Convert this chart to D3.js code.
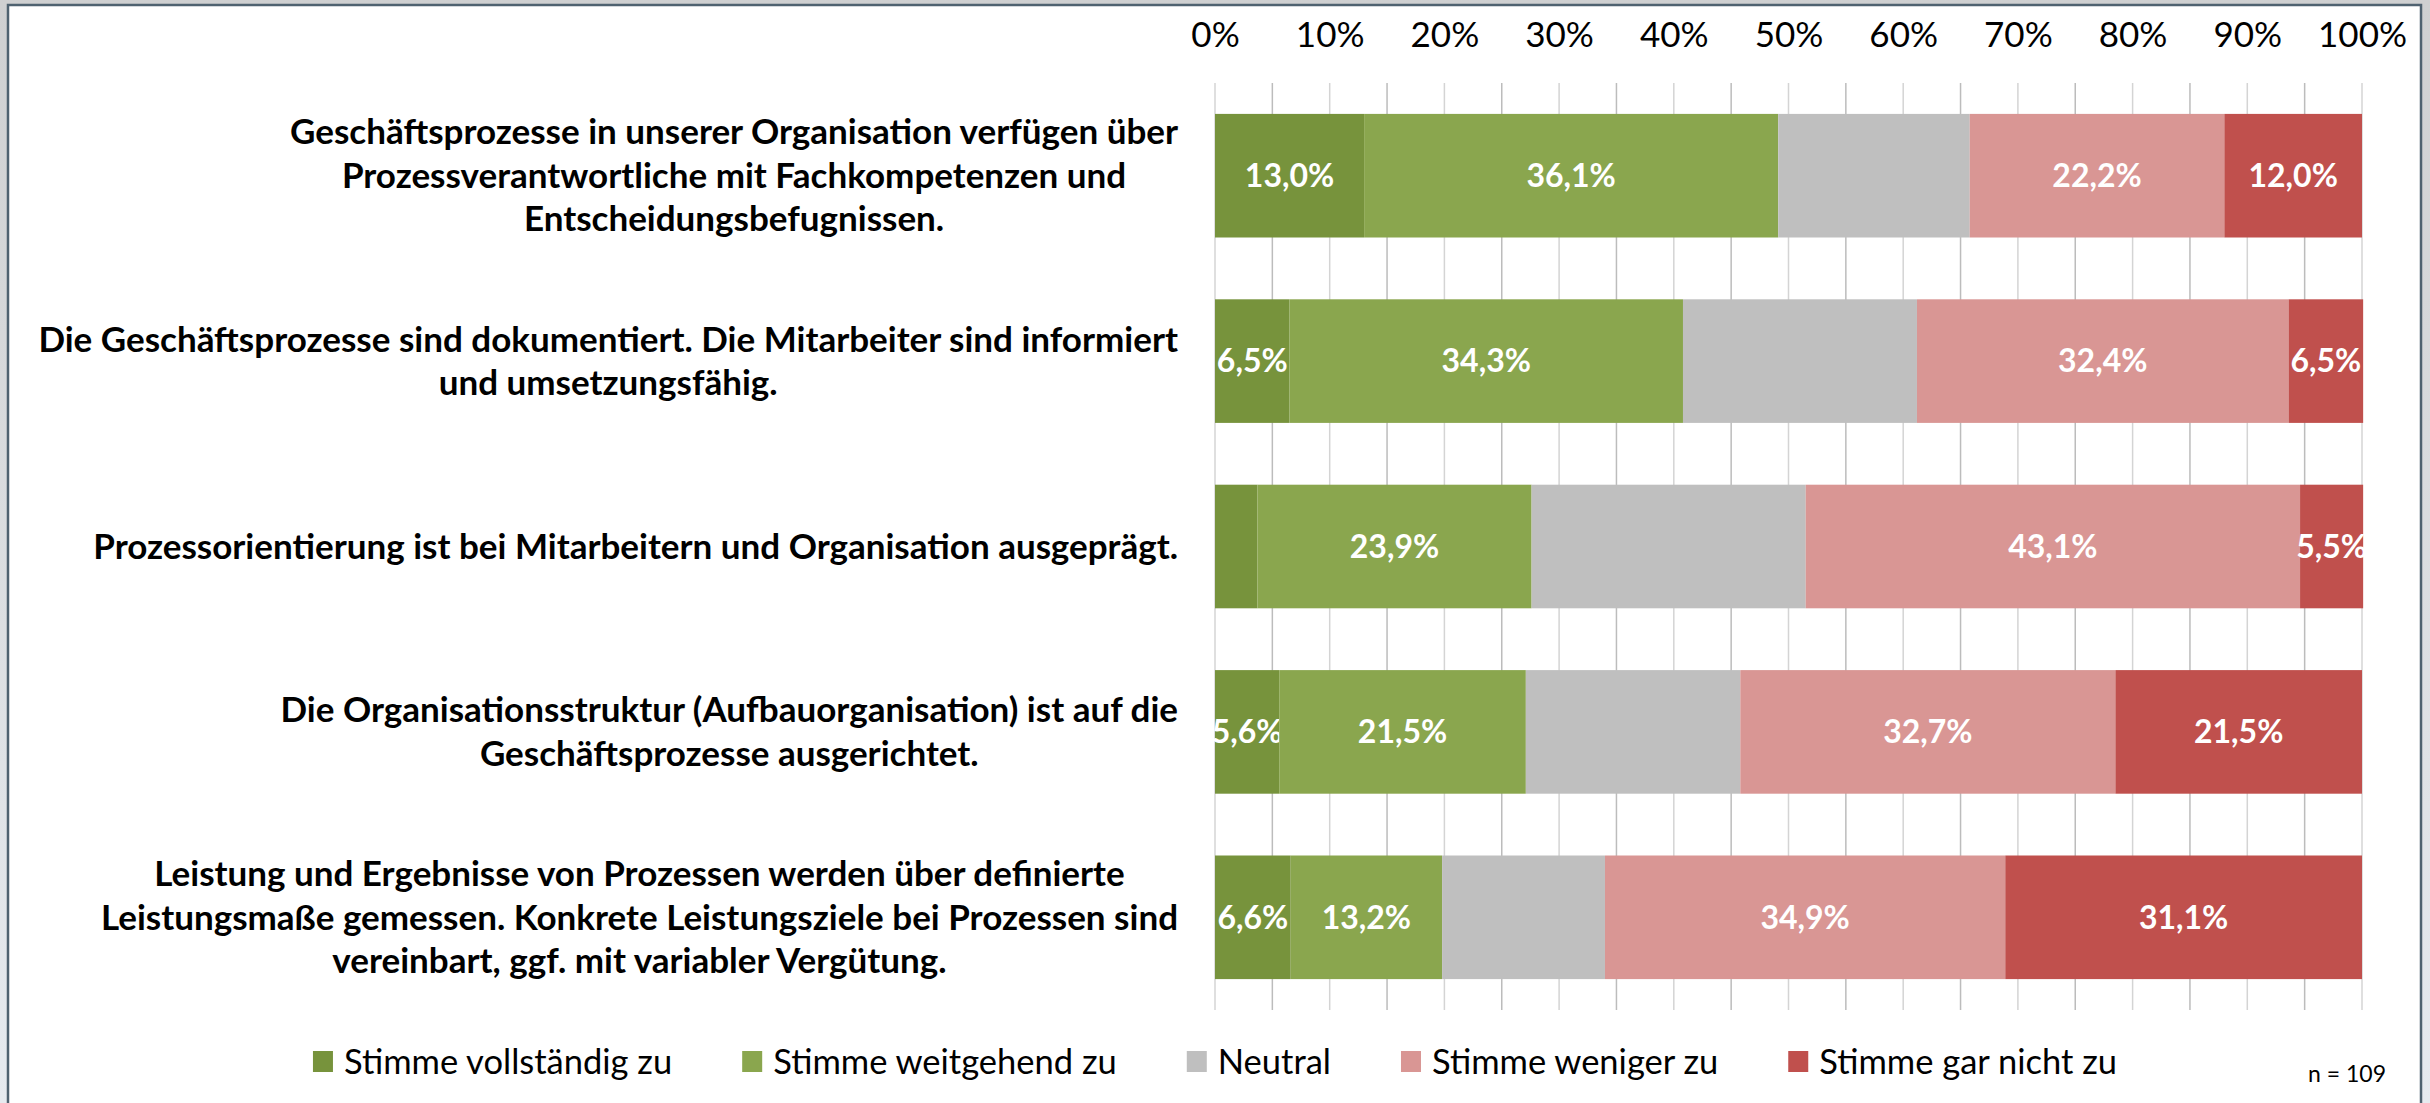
<!DOCTYPE html>
<html>
<head>
<meta charset="utf-8">
<script src="https://cdn.jsdelivr.net/npm/d3@7"></script>
<style>
  body { margin: 0; background: #d6d8db; }
  svg { display: block; }
</style>
</head>
<body>
<svg id="chart" width="2430" height="1103"></svg>
<script>
// survey statements (already wrapped as in the original)
var categories = [
  ["Geschäftsprozesse in unserer Organisation verfügen über", "Prozessverantwortliche mit Fachkompetenzen und", "Entscheidungsbefugnissen."],
  ["Die Geschäftsprozesse sind dokumentiert. Die Mitarbeiter sind informiert", "und umsetzungsfähig."],
  ["Prozessorientierung ist bei Mitarbeitern und Organisation ausgeprägt."],
  ["Die Organisationsstruktur (Aufbauorganisation) ist auf die", "Geschäftsprozesse ausgerichtet."],
  ["Leistung und Ergebnisse von Prozessen werden über definierte", "Leistungsmaße gemessen. Konkrete Leistungsziele bei Prozessen sind", "vereinbart, ggf. mit variabler Vergütung."]
];
var seriesNames = ["Stimme vollständig zu", "Stimme weitgehend zu", "Neutral", "Stimme weniger zu", "Stimme gar nicht zu"];
var seriesColors = ["#77933c", "#8aa64e", "#bfbfbf", "#d99694", "#c0504d"];

var vollstaendig = [13.0, 6.5, 3.7, 5.6, 6.6];
var weitgehend   = [36.1, 34.3, 23.9, 21.5, 13.2];
var neutral      = [16.7, 20.4, 23.9, 18.7, 14.2];
var weniger      = [22.2, 32.4, 43.1, 32.7, 34.9];
var garNicht     = [12.0, 6.5, 5.5, 21.5, 31.1];

var tickValues = [0, 10, 20, 30, 40, 50, 60, 70, 80, 90, 100];
var gridValues = d3.range(0, 101, 5);
var sampleNote = "n = 109";

var font = "Lato, 'Open Sans', sans-serif";

var rows = categories.map(function(c, i) {
  return { id: i, lines: c, v0: vollstaendig[i], v1: weitgehend[i], v2: neutral[i], v3: weniger[i], v4: garNicht[i] };
});
var keys = ["v0", "v1", "v2", "v3", "v4"];

var svg = d3.select("#chart");
var W = +svg.attr("width"), H = +svg.attr("height");

// outer window background + chart frame
var grad = svg.append("defs").append("linearGradient")
    .attr("id", "bg").attr("x1", 0).attr("y1", 0).attr("x2", 0).attr("y2", 1);
grad.append("stop").attr("offset", "0%").attr("stop-color", "#cfd0d1");
grad.append("stop").attr("offset", "100%").attr("stop-color", "#e6eaef");
svg.append("rect").attr("width", W).attr("height", H).attr("fill", "url(#bg)");
svg.append("rect")
    .attr("x", 8).attr("y", 5).attr("width", 2413).attr("height", H)
    .attr("fill", "#fff").attr("stroke", "#4f6270").attr("stroke-width", 2.5);

var plot = { left: 1215, right: 2362, top: 83, bottom: 1010 };

var x = d3.scaleLinear().domain([0, 100]).range([plot.left, plot.right]);
var y = d3.scaleBand().domain(rows.map(function(d) { return d.id; }))
    .range([plot.top, plot.bottom]).paddingInner(1 / 3).paddingOuter(1 / 6);

// gridlines every 5 %
svg.append("g").selectAll("line")
    .data(gridValues)
    .enter().append("line")
    .attr("x1", function(d) { return x(d); })
    .attr("x2", function(d) { return x(d); })
    .attr("y1", plot.top).attr("y2", plot.bottom)
    .attr("stroke", function(d) { return d % 10 === 0 ? "#d4d4d4" : "#bcbcbc"; })
    .attr("stroke-width", 1.5);

// top axis with percent labels
var axis = svg.append("g")
    .attr("transform", "translate(0," + plot.top + ")")
    .call(d3.axisTop(x).tickValues(tickValues).tickSize(0).tickPadding(36)
      .tickFormat(function(d) { return d + "%"; }));
axis.select(".domain").remove();
axis.selectAll("text")
    .style("font-family", font).style("font-size", "35px").attr("fill", "#000");

// stacked bars
var stacked = d3.stack().keys(keys)(rows);
var layer = svg.append("g").selectAll("g")
    .data(stacked)
    .enter().append("g")
    .attr("fill", function(d, i) { return seriesColors[i]; });

layer.selectAll("rect")
    .data(function(d) { return d; })
    .enter().append("rect")
    .attr("x", function(d) { return x(d[0]); })
    .attr("y", function(d) { return y(d.data.id); })
    .attr("width", function(d) { return x(d[1]) - x(d[0]); })
    .attr("height", y.bandwidth());

// value labels (neutral and tiny segments are not labelled)
layer.each(function(s, si) {
  if (keys[si] === "v2") return;
  d3.select(this).selectAll("text")
      .data(s.filter(function(d) { return d[1] - d[0] >= 5; }))
      .enter().append("text")
      .attr("x", function(d) { return (x(d[0]) + x(d[1])) / 2; })
      .attr("y", function(d) { return y(d.data.id) + y.bandwidth() / 2; })
      .attr("dy", "0.35em")
      .attr("text-anchor", "middle")
      .attr("fill", "#fff")
      .style("font-family", font).style("font-size", "32px").style("font-weight", "bold")
      .text(function(d) { return (d[1] - d[0]).toFixed(1).replace(".", ",") + "%"; });
});

// category labels: block right-aligned to the axis, lines centred inside the block
var labelRight = 1178, lineH = 43.5;
rows.forEach(function(r) {
  var g = svg.append("g");
  var texts = g.selectAll("text")
      .data(r.lines)
      .enter().append("text")
      .attr("text-anchor", "middle")
      .attr("y", function(d, i) {
        return y(r.id) + y.bandwidth() / 2 + (i - (r.lines.length - 1) / 2) * lineH;
      })
      .attr("dy", "0.35em")
      .style("font-family", font).style("font-size", "35px").style("font-weight", "bold")
      .attr("fill", "#000")
      .text(function(d) { return d; });
  var maxW = d3.max(texts.nodes(), function(n) { return n.getComputedTextLength(); });
  texts.attr("x", labelRight - maxW / 2);
});

// legend, centred under the chart
var legend = svg.append("g");
var items = legend.selectAll("g")
    .data(seriesNames)
    .enter().append("g");
items.append("rect")
    .attr("width", 20).attr("height", 21).attr("y", 1051)
    .attr("fill", function(d, i) { return seriesColors[i]; });
items.append("text")
    .attr("x", 31).attr("y", 1062).attr("dy", "0.35em")
    .style("font-family", font).style("font-size", "34.5px")
    .attr("fill", "#000")
    .text(function(d) { return d; });
var pos = 0, gap = 70;
items.each(function() {
  var w = d3.select(this).select("text").node().getComputedTextLength() + 31;
  d3.select(this).attr("transform", "translate(" + pos + ",0)");
  pos += w + gap;
});
var legendW = pos - gap;
legend.attr("transform", "translate(" + (1215 - legendW / 2) + ",0)");

svg.append("text")
    .attr("x", 2386).attr("y", 1082)
    .attr("text-anchor", "end")
    .style("font-family", font).style("font-size", "23px")
    .attr("fill", "#000")
    .text(sampleNote);
</script>
</body>
</html>
